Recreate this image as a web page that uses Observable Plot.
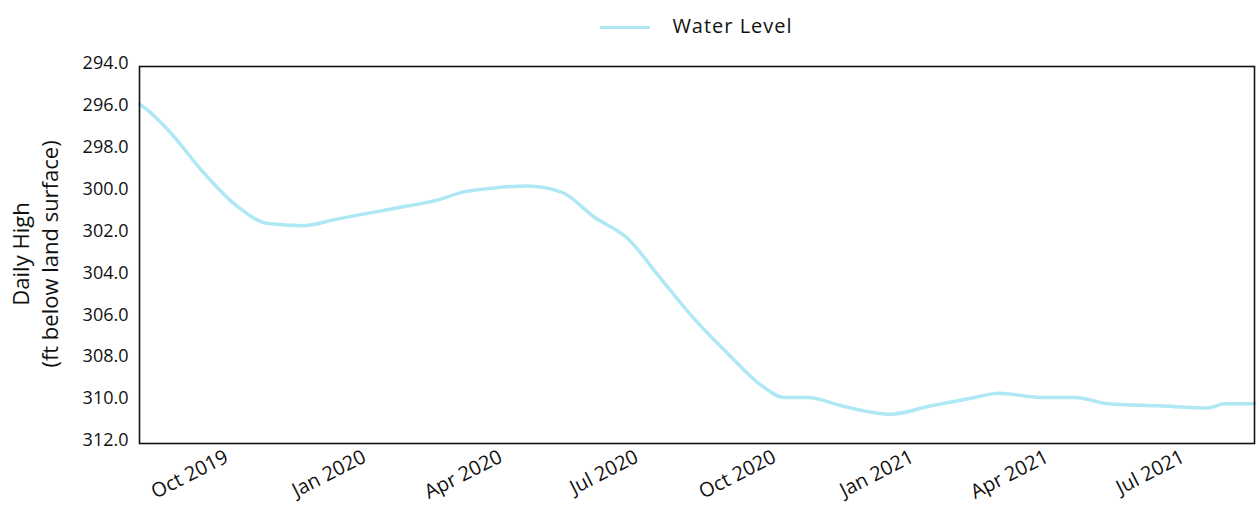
<!DOCTYPE html>
<html>
<head>
<meta charset="utf-8">
<script src="https://cdn.jsdelivr.net/npm/d3@7"></script>
<script src="https://cdn.jsdelivr.net/npm/@observablehq/plot@0.6"></script>
<style>
  html, body { margin: 0; padding: 0; background: #fff; }
  body { width: 1259px; height: 519px; overflow: hidden; font-family: "Open Sans", "Lato", sans-serif; }
  #legend { height: 50px; box-sizing: border-box; padding-left: 139px; padding-right: 5px;
    display: flex; justify-content: center; align-items: center; font-size: 20px; letter-spacing: 1px; color: #111; }
  #legend .sw { width: 50px; height: 3px; background: #aee8f5; margin-right: 22px; margin-top: 4px; }
</style>
</head>
<body>
<div id="legend"><span class="sw"></span><span>Water Level</span></div>
<div id="chart"></div>
<script>
const seriesName = "Water Level";
const dates = [
  "2019-08-01","2019-08-05","2019-08-21","2019-09-12","2019-10-04","2019-10-26",
  "2019-11-18","2019-12-10","2020-01-01","2020-01-24","2020-02-15","2020-03-04",
  "2020-03-25","2020-04-16","2020-05-09","2020-05-31","2020-06-22","2020-07-14",
  "2020-08-05","2020-08-28","2020-09-19","2020-10-05","2020-10-21","2020-11-12",
  "2020-12-15","2021-01-11","2021-02-09","2021-02-25","2021-03-25","2021-04-17",
  "2021-05-09","2021-06-12","2021-07-15","2021-07-26","2021-08-15"
];
const levels = [
  295.8, 296.0, 297.1, 299.0, 300.6, 301.5,
  301.6, 301.3, 301.0, 300.7, 300.4, 300.0,
  299.8, 299.7, 300.0, 301.2, 302.2, 304.1,
  306.0, 307.7, 309.2, 309.8, 309.8, 310.2,
  310.6, 310.2, 309.8, 309.6, 309.8, 309.8,
  310.1, 310.2, 310.3, 310.1, 310.1
];
const yTicks = [294, 296, 298, 300, 302, 304, 306, 308, 310, 312];
const xTicks = ["2019-10-01","2020-01-01","2020-04-01","2020-07-01","2020-10-01","2021-01-01","2021-04-01","2021-07-01"];
const yLabel = "Daily High\n(ft below land surface)";

const data = dates.map((d, i) => ({date: new Date(d), value: levels[i]}));

const chart = Plot.plot({
  width: 1259,
  height: 469,
  marginTop: 16,
  marginBottom: 76,
  marginLeft: 139,
  marginRight: 5,
  style: {fontFamily: "Open Sans, Lato, sans-serif", fontSize: "18px", color: "#111", background: "#fff"},
  x: {type: "utc", domain: [new Date("2019-08-01"), new Date("2021-08-15")]},
  y: {domain: [294, 312], reverse: true},
  marks: [
    Plot.line(data, {x: "date", y: "value", stroke: "#aee8f5", strokeWidth: 3.5, curve: "monotone-x"}),
    Plot.frame({stroke: "#111", strokeWidth: 1.6}),
    Plot.axisY({ticks: yTicks, tickFormat: d => d.toFixed(1), tickSize: 0, tickPadding: 11, label: null, dy: -3, fontSize: 18, style: {letterSpacing: "0.3px"}}),
    Plot.axisX({ticks: xTicks.map(d => new Date(d)), tickFormat: d3.utcFormat("%b %Y"), tickSize: 0, tickPadding: 12, tickRotate: -27, label: null, dx: -4, fontSize: 20, style: {letterSpacing: "1.2px"}}),
    Plot.text([yLabel], {frameAnchor: "left", text: d => d, textAnchor: "middle", rotate: -90, dx: -105, dy: -1, fontSize: 22, lineHeight: 1.32, fill: "#111", style: {letterSpacing: "0.6px"}})
  ]
});
document.getElementById("chart").appendChild(chart);
</script>
</body>
</html>
